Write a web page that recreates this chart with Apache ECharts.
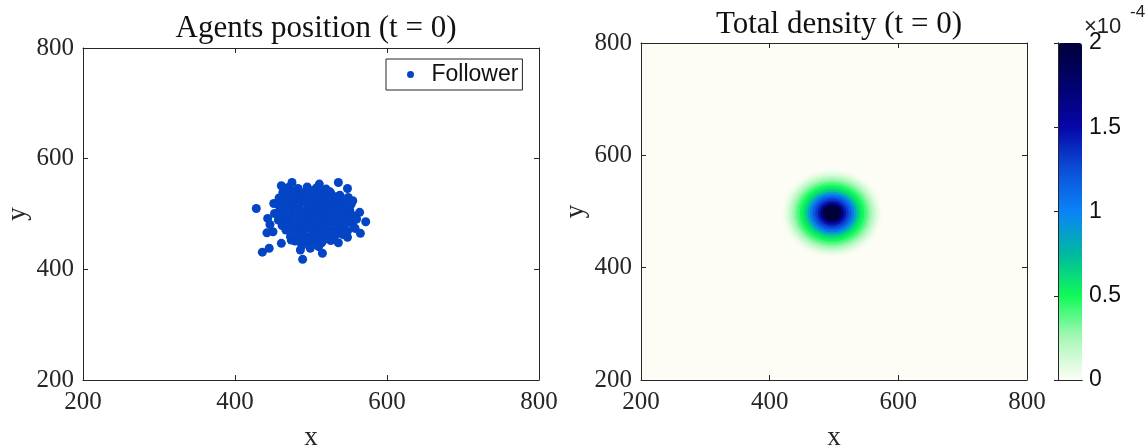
<!DOCTYPE html>
<html>
<head>
<meta charset="utf-8">
<script src="https://cdn.jsdelivr.net/npm/echarts@6/dist/echarts.min.js"></script>
<style>
  html, body { margin: 0; padding: 0; background: #ffffff; }
  #chart { width: 1148px; height: 446px; }
</style>
</head>
<body>
<div id="chart"></div>
<script>
// Axis ticks shared by both panels
const axisTicks = [200, 400, 600, 800];
const colorbarTicks = [0, 0.5, 1, 1.5, 2];

// Follower agent positions at t = 0
const followerX = [
  428, 436, 445, 461, 475, 451, 443, 446, 442, 450, 461, 474, 489, 486, 499, 515, 511, 536, 548, 555,
  564, 572, 565, 558, 548, 536, 525,
  470, 483, 495, 507, 520,
  463, 476, 489, 501, 513, 526, 538,
  458, 469, 481, 492, 504, 515, 527, 539, 549,
  455, 466, 478, 490, 502, 513, 524, 536, 546, 553,
  460, 471, 483, 495, 507, 518, 530, 541, 551,
  452, 463, 475, 487, 498, 510, 521, 533, 544, 556,
  457, 468, 480, 492, 503, 515, 527, 538, 549, 560,
  462, 474, 486, 497, 509, 520, 532, 543, 555,
  467, 479, 491, 502, 514, 526, 537, 548,
  473, 485, 496, 508, 519, 531, 542,
  479, 491, 503, 514, 526,
  488, 500, 510,
  493, 505, 498, 485, 512, 520, 480, 500, 510, 490, 464, 459,
  470, 482, 495, 508, 520, 532,
  463, 475, 487, 498, 510, 522, 533, 544,
  460, 472, 484, 496, 508, 519, 531, 543,
  458, 469, 481, 493, 504, 516, 527, 539, 550,
  462, 474, 486, 497, 509, 521, 532, 544, 554,
  466, 478, 490, 502, 514, 526, 537, 549,
  472, 484, 496, 508, 520, 531, 543,
  478, 490, 502, 514, 525, 536,
  485, 497, 509, 520
];
const followerY = [
  510, 431, 438, 551, 557, 519, 492, 481, 466, 468, 447, 453, 418, 435, 438, 429, 554, 557, 546, 524,
  503, 486, 465, 474, 458, 448, 540,
  548, 546, 549, 547, 545,
  539, 541, 538, 542, 539, 537, 534,
  529, 531, 528, 532, 529, 531, 528, 526, 530,
  519, 521, 518, 522, 519, 521, 517, 520, 516, 518,
  511, 508, 512, 509, 511, 508, 512, 509, 507,
  501, 499, 502, 498, 501, 499, 502, 498, 501, 497,
  489, 491, 488, 492, 489, 491, 488, 492, 489, 491,
  479, 481, 478, 482, 479, 481, 477, 480, 482,
  471, 468, 472, 469, 471, 468, 472, 469,
  459, 461, 458, 462, 459, 461, 463,
  451, 449, 452, 448, 452,
  443, 445, 441,
  505, 495, 515, 490, 485, 510, 505, 480, 525, 530, 537, 498,
  535, 534, 536, 533, 535, 531,
  524, 526, 523, 525, 524, 526, 523, 525,
  514, 516, 513, 515, 514, 516, 513, 515,
  505, 504, 506, 503, 505, 504, 506, 504, 503,
  495, 494, 496, 494, 496, 494, 496, 494, 495,
  485, 486, 484, 486, 484, 486, 484, 485,
  475, 474, 476, 474, 476, 474, 476,
  465, 464, 466, 464, 466, 465,
  455, 454, 456, 455
];

// Total density: radial profile around the crowd centre (values in units of 1e-4)
const densityCenter = [497, 497];
const densityRadius = [0, 4, 8, 12, 16, 20, 24, 28, 32, 36, 40, 44, 48, 52, 56, 60, 64, 68, 72, 76];
const densityValue = [3.0, 2.6, 2.3, 2.05, 1.72, 1.45, 1.32, 1.2, 1.06, 0.85, 0.68, 0.58, 0.5, 0.42, 0.34, 0.26, 0.19, 0.12, 0.06, 0.02];

// Colormap from 0 to 2e-4
const colormap = ['#fefef5', '#a8f7b8', '#10fa58', '#00b8a0', '#0a84f8', '#0c4ed8', '#0606a8', '#020270', '#00003a'];

const serif = 'Liberation Serif';
const sans = 'Liberation Sans';
const ink = '#262626';

const followerData = followerX.map((x, i) => [x, followerY[i]]);

// filled bands, outermost first, each clipped to the colour scale
const ringData = densityRadius
  .map((r, i) => [densityCenter[0], densityCenter[1], r + 2, Math.min(densityValue[i], 2)])
  .reverse();

function renderBand(params, api) {
  const cx = api.value(0), cy = api.value(1), r = api.value(2);
  const pts = [];
  const n = 96;
  for (let k = 0; k < n; k++) {
    const a = (k / n) * Math.PI * 2;
    pts.push(api.coord([cx + r * Math.cos(a), cy + r * Math.sin(a)]));
  }
  return { type: 'polygon', shape: { points: pts }, style: { fill: api.visual('color') } };
}

function frameAxis(kind, gridIndex, position, withLabels, extra) {
  const base = {
    type: 'value', gridIndex, position, min: 200, max: 800, interval: 200,
    axisLine: { show: true, onZero: false, lineStyle: { color: ink, width: 1 } },
    axisTick: { show: true, inside: true, length: 5, lineStyle: { color: ink } },
    splitLine: { show: false },
    axisLabel: withLabels
      ? { show: true, color: ink, fontFamily: serif, fontSize: 25, margin: kind === 'x' ? 10 : 9 }
      : { show: false },
    z: 5
  };
  return Object.assign(base, extra || {});
}

const nameStyle = { color: ink, fontFamily: serif, fontSize: 27 };

const option = {
  animation: false,
  backgroundColor: '#ffffff',
  title: [
    { text: 'Agents position (t = 0)', left: 311, top: 8, textAlign: 'center',
      textStyle: { fontFamily: serif, fontWeight: 'normal', fontSize: 31, color: '#111' } },
    { text: 'Total density (t = 0)', left: 834, top: 4, textAlign: 'center',
      textStyle: { fontFamily: serif, fontWeight: 'normal', fontSize: 31, color: '#111' } }
  ],
  grid: [
    { left: 83, top: 48, width: 456, height: 332, show: true, backgroundColor: '#ffffff', borderWidth: 0, outerBoundsMode: 'none' },
    { left: 641, top: 43, width: 386, height: 337, show: true, backgroundColor: '#fdfdf5', borderWidth: 0, outerBoundsMode: 'none' },
    { left: 1058, top: 43, width: 24, height: 337, show: false, outerBoundsMode: 'none' }
  ],
  legend: {
    data: ['Follower'],
    left: 386, top: 59,
    orient: 'vertical',
    padding: [4, 4, 4, 21],
    itemWidth: 10, itemHeight: 7,
    backgroundColor: '#ffffff',
    borderColor: ink, borderWidth: 1,
    textStyle: { fontFamily: sans, fontSize: 23, color: '#111', padding: [0, 0, 0, 11] }
  },
  xAxis: [
    frameAxis('x', 0, 'bottom', true, { name: 'x', nameLocation: 'middle', nameGap: 44, nameTextStyle: nameStyle }),
    frameAxis('x', 0, 'top', false),
    frameAxis('x', 1, 'bottom', true, { name: 'x', nameLocation: 'middle', nameGap: 44, nameTextStyle: nameStyle }),
    frameAxis('x', 1, 'top', false),
    { type: 'value', gridIndex: 2, position: 'bottom', min: 0, max: 1, z: 10,
      axisLine: { show: true, lineStyle: { color: ink } }, axisTick: { show: false }, axisLabel: { show: false }, splitLine: { show: false } },
    { type: 'value', gridIndex: 2, position: 'top', min: 0, max: 1, z: 10,
      axisLine: { show: true, lineStyle: { color: ink } }, axisTick: { show: false }, axisLabel: { show: false }, splitLine: { show: false } }
  ],
  yAxis: [
    frameAxis('y', 0, 'left', true, { name: 'y', nameLocation: 'middle', nameGap: 52, nameRotate: 90, nameTextStyle: nameStyle }),
    frameAxis('y', 0, 'right', false),
    frameAxis('y', 1, 'left', true, { name: 'y', nameLocation: 'middle', nameGap: 52, nameRotate: 90, nameTextStyle: nameStyle }),
    frameAxis('y', 1, 'right', false),
    { type: 'value', gridIndex: 2, position: 'right', min: colorbarTicks[0], max: colorbarTicks[colorbarTicks.length - 1], interval: 0.5, z: 10,
      axisLine: { show: true, lineStyle: { color: ink } },
      axisTick: { show: true, inside: true, length: 4, lineStyle: { color: ink } },
      axisLabel: { show: true, color: '#111', fontFamily: sans, fontSize: 23, margin: 7 },
      splitLine: { show: false } },
    { type: 'value', gridIndex: 2, position: 'left', min: 0, max: 2, z: 10,
      axisLine: { show: true, lineStyle: { color: ink } }, axisTick: { show: false }, axisLabel: { show: false }, splitLine: { show: false } }
  ],
  visualMap: {
    type: 'continuous',
    seriesIndex: 1,
    dimension: 3,
    min: 0, max: 2,
    calculable: false,
    hoverLink: false,
    left: 1058, top: 43,
    itemWidth: 24, itemHeight: 337,
    padding: 0,
    text: null,
    showLabel: false,
    inRange: { color: colormap }
  },
  graphic: [
    { type: 'text', left: 1084, top: 16, style: { text: '×10', fontFamily: sans, fontSize: 22, fill: '#222' } },
    { type: 'text', left: 1130, top: 4, style: { text: '-4', fontFamily: sans, fontSize: 17, fill: '#222' } }
  ],
  series: [
    {
      name: 'Follower',
      type: 'scatter',
      xAxisIndex: 0, yAxisIndex: 0,
      symbol: 'circle', symbolSize: 9,
      itemStyle: { color: '#0345c5', opacity: 1 },
      data: followerData,
      z: 3
    },
    {
      name: 'Density',
      type: 'custom',
      xAxisIndex: 2, yAxisIndex: 2,
      renderItem: renderBand,
      encode: { x: 0, y: 1 },
      data: ringData,
      clip: true,
      z: 2
    }
  ]
};

const chart = echarts.init(document.getElementById('chart'), null, { renderer: 'canvas' });
chart.setOption(option);
</script>
</body>
</html>
